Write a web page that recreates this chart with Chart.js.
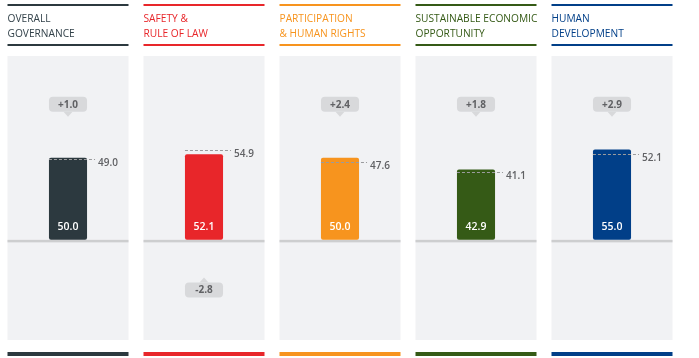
<!DOCTYPE html>
<html>
<head>
<meta charset="utf-8">
<script src="https://cdn.jsdelivr.net/npm/chart.js@4"></script>
<style>
  body { margin: 0; background: #fff; }
  canvas { display: block; }
</style>
</head>
<body>
<canvas id="chart" width="699" height="358"></canvas>
<script>
    const titles = [
        ['OVERALL', 'GOVERNANCE'],
        ['SAFETY &', 'RULE OF LAW'],
        ['PARTICIPATION', '& HUMAN RIGHTS'],
        ['SUSTAINABLE ECONOMIC', 'OPPORTUNITY'],
        ['HUMAN', 'DEVELOPMENT']
    ];
    const scores = [50.0, 52.1, 50.0, 42.9, 55.0];
    const previousScores = [49.0, 54.9, 47.6, 41.1, 52.1];
    const changes = [1.0, -2.8, 2.4, 1.8, 2.9];
    const colors = ['#2c393f', '#e8262a', '#f7941e', '#355a16', '#013f88'];
    const titleColors = ['#33424a', '#e8262a', '#f7941e', '#355a16', '#013f88'];

    const FONT = '"Open Sans", "DejaVu Sans", sans-serif';

    // backgrounds, headers, zero line, then markers on top of the bars
    const panelPlugin = {
        id: 'panels',
        beforeDatasetsDraw(chart) {
            const { ctx, chartArea, scales: { x, y } } = chart;
            const half = 60.5;
            const zero = y.getPixelForValue(0);
            ctx.save();
            scores.forEach((v, i) => {
                const left = x.getPixelForValue(i) - half;
                ctx.fillStyle = '#f1f2f4';
                ctx.fillRect(left, chartArea.top, half * 2, chartArea.bottom - chartArea.top);
                ctx.fillStyle = '#cdcecf';
                ctx.fillRect(left, zero, half * 2, 2.5);

                ctx.fillStyle = colors[i];
                ctx.fillRect(left, 4, half * 2, 2);
                ctx.fillRect(left, 44, half * 2, 2);
                ctx.fillRect(left, 352, half * 2, 4);

                ctx.fillStyle = titleColors[i];
                ctx.font = '10.2px ' + FONT;
                ctx.textBaseline = 'alphabetic';
                ctx.textAlign = 'left';
                ctx.fillText(titles[i][0], left, 21.5);
                ctx.fillText(titles[i][1], left, 36.5);
            });
            ctx.restore();
        },
        afterDatasetsDraw(chart) {
            const { ctx, scales: { y } } = chart;
            const bars = chart.getDatasetMeta(0).data;
            ctx.save();
            bars.forEach((bar, i) => {
                const l = bar.x - bar.width / 2;
                const r = bar.x + bar.width / 2;

                // previous score
                const py = Math.round(y.getPixelForValue(previousScores[i])) + 0.5;
                ctx.strokeStyle = '#9a9b9d';
                ctx.lineWidth = 1;
                ctx.setLineDash([3, 2]);
                ctx.beginPath();
                ctx.moveTo(l, py);
                ctx.lineTo(r + 8, py);
                ctx.stroke();
                ctx.setLineDash([]);
                ctx.fillStyle = '#606164';
                ctx.font = '600 10px ' + FONT;
                ctx.textAlign = 'left';
                ctx.textBaseline = 'middle';
                ctx.fillText(previousScores[i].toFixed(1), r + 11, py + 4);

                // score inside the bar
                ctx.fillStyle = '#ffffff';
                ctx.font = '600 10.5px ' + FONT;
                ctx.textAlign = 'center';
                ctx.fillText(scores[i].toFixed(1), bar.x, bar.base - 12.5);

                // change badge
                const up = changes[i] >= 0;
                const cy = y.getPixelForValue(up ? 82.6 : -30.5);
                const h = 15, w = bar.width;
                ctx.fillStyle = '#d8d9db';
                ctx.beginPath();
                ctx.roundRect(l, cy - h / 2, w, h, 4);
                ctx.fill();
                ctx.beginPath();
                if (up) {
                    ctx.moveTo(bar.x - 4.5, cy + h / 2);
                    ctx.lineTo(bar.x, cy + h / 2 + 5);
                    ctx.lineTo(bar.x + 4.5, cy + h / 2);
                } else {
                    ctx.moveTo(bar.x - 4.5, cy - h / 2);
                    ctx.lineTo(bar.x, cy - h / 2 - 5);
                    ctx.lineTo(bar.x + 4.5, cy - h / 2);
                }
                ctx.fill();
                ctx.fillStyle = '#606164';
                ctx.font = '700 10px ' + FONT;
                ctx.fillText((up ? '+' : '') + changes[i].toFixed(1), bar.x, cy + 0.5);
            });
            ctx.restore();
        }
    };

    new Chart(document.getElementById('chart'), {
        type: 'bar',
        data: {
            labels: titles.map(t => t.join(' ')),
            datasets: [{
                data: scores,
                backgroundColor: colors,
                borderRadius: 2,
                borderSkipped: false,
                categoryPercentage: 1,
                barPercentage: 0.28
            }]
        },
        options: {
            responsive: false,
            animation: false,
            devicePixelRatio: 1,
            layout: { padding: { top: 56, bottom: 18, left: 0, right: 19 } },
            scales: {
                x: { display: false },
                y: { display: false, min: -61, max: 112 }
            },
            plugins: { legend: { display: false }, tooltip: { enabled: false } }
        },
        plugins: [panelPlugin]
    });
</script>
</body>
</html>
